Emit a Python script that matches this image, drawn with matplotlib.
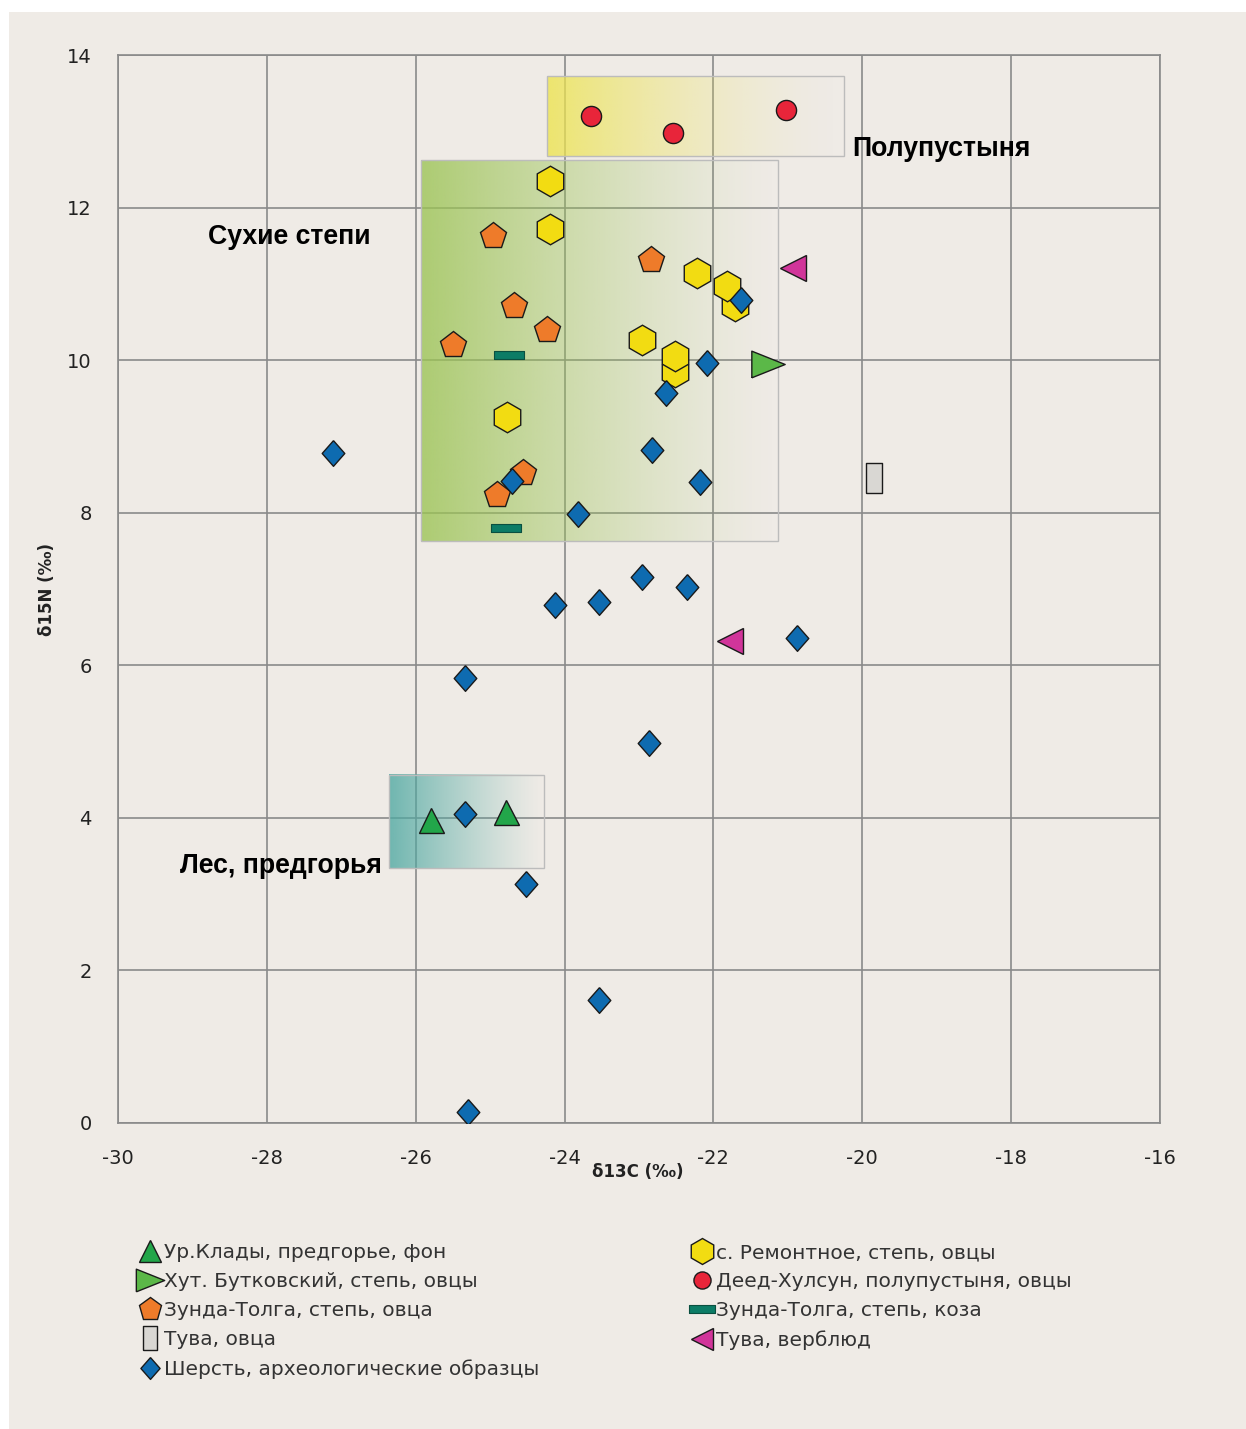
import numpy as np
import matplotlib
matplotlib.use('Agg')
import matplotlib.pyplot as plt
from matplotlib.patches import Rectangle
from matplotlib.colors import to_rgb

plt.rcParams['axes.unicode_minus'] = False

BG = '#EFEBE6'
GRID = '#8a8a8a'

# данные: d13C (x), d15N (y)
klady_x = [-25.79, -24.79]
klady_y = [3.97, 4.08]

butk_x = [-21.27]
butk_y = [9.95]

zt_sheep_x = [-24.96, -22.84, -24.68, -24.24, -25.50, -24.56, -24.91]
zt_sheep_y = [11.63, 11.31, 10.71, 10.39, 10.20, 8.52, 8.23]

tuva_sheep_x = [-19.84]
tuva_sheep_y = [8.45]

wool_x = [-21.63, -22.09, -22.64, -22.83, -22.18, -24.71, -23.82, -27.11, -22.96,
          -22.36, -24.13, -23.54, -20.88, -25.34, -22.87, -25.34, -24.52, -23.54, -25.30]
wool_y = [10.79, 9.96, 9.57, 8.82, 8.40, 8.42, 7.98, 8.78, 7.16,
          7.03, 6.79, 6.83, 6.36, 5.83, 4.98, 4.05, 3.13, 1.61, 0.14]

remont_x = [-24.20, -24.20, -22.22, -21.71, -21.82, -22.96, -22.52, -22.52, -24.77]
remont_y = [12.35, 11.72, 11.14, 10.71, 10.97, 10.26, 9.84, 10.05, 9.25]

deed_x = [-23.65, -22.54, -21.02]
deed_y = [13.20, 12.98, 13.28]

zt_goat_x = [-24.75, -24.79]
zt_goat_y = [10.07, 7.80]

tuva_camel_x = [-20.93, -21.78]
tuva_camel_y = [11.21, 6.32]

# зоны: (x0, x1, y0, y1)
zone_semi = (-24.24, -20.25, 12.68, 13.72)
zone_steppe = (-25.93, -21.13, 7.63, 12.62)
zone_forest = (-26.36, -24.28, 3.34, 4.56)

xticks = list(range(-30, -15, 2))
yticks = list(range(0, 15, 2))

# маркеры
diamond = [(0, 1), (0.88, 0), (0, -1), (-0.88, 0), (0, 1)]
right_tri = [(-1, -0.8), (1, 0), (-1, 0.8), (-1, -0.8)]
tall_rect = [(-0.58, -1), (0.58, -1), (0.58, 1), (-0.58, 1), (-0.58, -1)]
dash = [(-1, -0.3), (1, -0.3), (1, 0.3), (-1, 0.3), (-1, -0.3)]


def gradient_box(ax, box, color, a0, power):
    x0, x1, y0, y1 = box
    n = 300
    t = np.linspace(0, 1, n)
    img = np.zeros((1, n, 4))
    img[0, :, :3] = to_rgb(color)
    img[0, :, 3] = a0 * (1 - t) ** power
    ax.imshow(img, extent=(x0, x1, y0, y1), aspect='auto',
              interpolation='bilinear', zorder=1)
    ax.add_patch(Rectangle((x0, y0), x1 - x0, y1 - y0, fill=False,
                           edgecolor='#bcbcbc', lw=1.0, zorder=1.1))


fig = plt.figure(figsize=(12.46, 14.29), dpi=100, facecolor='white')
fig.patches.append(Rectangle((9 / 1246, 0), 1, 1 - 12 / 1429, transform=fig.transFigure,
                             facecolor=BG, edgecolor='none', zorder=-10))

ax = fig.add_axes([118 / 1246, 1 - 1123 / 1429, (1160 - 118) / 1246, (1123 - 55) / 1429])
ax.set_facecolor(BG)

gradient_box(ax, zone_semi, '#EDE450', 0.8, 1.6)
gradient_box(ax, zone_steppe, '#9CC455', 0.8, 1.3)
gradient_box(ax, zone_forest, '#4FA9A2', 0.8, 1.2)

ek = dict(markeredgecolor='#1a1a1a', markeredgewidth=1.0, linestyle='none', zorder=3)
h1, = ax.plot(klady_x, klady_y, marker='^', ms=18, color='#22A64A', **ek)
h2, = ax.plot(butk_x, butk_y, marker=right_tri, ms=24, color='#5BB848', **ek)
h3, = ax.plot(zt_sheep_x, zt_sheep_y, marker='p', ms=20, color='#EE7B2A', **ek)
h4, = ax.plot(tuva_sheep_x, tuva_sheep_y, marker=tall_rect, ms=21, color='#D9D7D3', **ek)
h6, = ax.plot(remont_x, remont_y, marker='h', ms=22, color='#F2DC12', **ek)
h7, = ax.plot(deed_x, deed_y, marker='o', ms=14.5, color='#E8253A', **ek)
h8, = ax.plot(zt_goat_x, zt_goat_y, marker=dash, ms=21.5, color='#0C7C66',
              markeredgecolor='#0a4f40', markeredgewidth=0.8, linestyle='none', zorder=3)
h9, = ax.plot(tuva_camel_x, tuva_camel_y, marker='<', ms=19, color='#D1359A', **ek)
h5, = ax.plot(wool_x, wool_y, marker=diamond, ms=18.5, color='#0E6BB0', **ek)

ax.set_xlim(-30, -16)
ax.set_ylim(0, 14)
ax.set_xticks(xticks)
ax.set_yticks(yticks)
ax.grid(True, color=GRID, lw=1.2, zorder=0.5)
ax.set_axisbelow(True)
for s in ax.spines.values():
    s.set_color(GRID)
    s.set_linewidth(1.2)
ax.tick_params(length=0, labelsize=14, labelcolor='#222222', pad=19)

lbl = dict(fontsize=19.2, fontweight='bold', family='Liberation Sans',
           ha='left', va='center', zorder=4)
ax.text(-20.14, 12.77, 'Полупустыня', **lbl)
ax.text(-28.79, 11.61, 'Сухие степи', **lbl)
ax.text(-29.17, 3.37, 'Лес, предгорья', **lbl)

fig.text(638 / 1246, 1 - 1172 / 1429, 'δ13C (‰)', fontsize=12, fontweight='bold',
         ha='center', va='center', color='#222222')
fig.text(47 / 1246, 1 - 589 / 1429, 'δ15N (‰)', fontsize=12, fontweight='bold',
         ha='center', va='center', rotation=90, color='#222222')

leg_kw = dict(loc='upper left', frameon=False, fontsize=14.5, handlelength=1.0,
              handletextpad=0.2, labelspacing=0.5, borderpad=0, borderaxespad=0,
              markerscale=0.85, labelcolor='#333333')
fig.legend([h1, h2, h3, h4, h5],
           ['Ур.Клады, предгорье, фон', 'Хут. Бутковский, степь, овцы',
            'Зунда-Толга, степь, овца', 'Тува, овца', 'Шерсть, археологические образцы'],
           bbox_to_anchor=(140 / 1246, 1 - 1243 / 1429), **leg_kw)
fig.legend([h6, h7, h8, h9],
           ['с. Ремонтное, степь, овцы', 'Деед-Хулсун, полупустыня, овцы',
            'Зунда-Толга, степь, коза', 'Тува, верблюд'],
           bbox_to_anchor=(692 / 1246, 1 - 1243 / 1429), **leg_kw)

fig.savefig('out.png', dpi=100, facecolor='white')
